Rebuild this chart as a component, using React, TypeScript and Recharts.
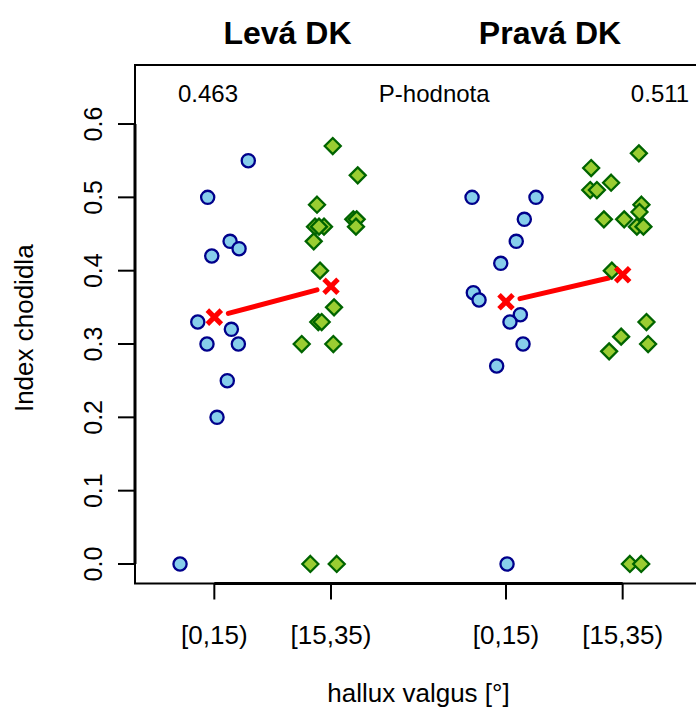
import {
  ScatterChart,
  Scatter,
  XAxis,
  YAxis,
  ReferenceArea,
  ReferenceLine,
  ReferenceDot,
} from 'recharts';

const FONT = "'Liberation Sans', Arial, Helvetica, sans-serif";

// group positions on the x axis and their labels
const groupPositions = [1, 2, 3.5, 4.5];
const groupLabels = ['[0,15)', '[15,35)', '[0,15)', '[15,35)'];
const sideTitles = ['Levá DK', 'Pravá DK'];
const titlePositions = [1.627, 3.877];
const titleLevel = 0.725;
const yTicks = [0, 0.1, 0.2, 0.3, 0.4, 0.5, 0.6];
const pLabels = ['0.463', 'P-hodnota', '0.511'];
const pPositions = [0.946, 2.885, 4.82];
const pLevel = 0.641;

// Levá DK, [0,15)
const leftLowX = [1.291, 0.943, 1.135, 1.212, 0.978, 0.858, 1.146, 0.937, 1.206, 1.111, 1.023, 0.706];
const leftLowY = [0.55, 0.5, 0.44, 0.43, 0.42, 0.33, 0.32, 0.3, 0.3, 0.25, 0.2, 0.0];

// Levá DK, [15,35)
const leftHighX = [2.015, 2.229, 1.88, 1.863, 1.94, 1.897, 2.191, 2.22, 2.214, 1.852, 1.906, 2.026, 1.891, 1.92, 1.749, 2.02, 1.823, 2.049];
const leftHighY = [0.57, 0.53, 0.49, 0.46, 0.46, 0.46, 0.47, 0.47, 0.46, 0.44, 0.4, 0.35, 0.33, 0.33, 0.3, 0.3, 0.0, 0.0];

// Pravá DK, [0,15)
const rightLowX = [3.209, 3.757, 3.657, 3.588, 3.455, 3.22, 3.269, 3.623, 3.534, 3.646, 3.42, 3.509];
const rightLowY = [0.5, 0.5, 0.47, 0.44, 0.41, 0.37, 0.36, 0.34, 0.33, 0.3, 0.27, 0.0];

// Pravá DK, [15,35)
const rightHighX = [4.639, 4.23, 4.401, 4.222, 4.279, 4.661, 4.644, 4.339, 4.513, 4.622, 4.678, 4.407, 4.704, 4.487, 4.384, 4.718, 4.562, 4.659];
const rightHighY = [0.56, 0.54, 0.52, 0.51, 0.51, 0.49, 0.48, 0.47, 0.47, 0.46, 0.46, 0.4, 0.33, 0.31, 0.29, 0.3, 0.0, 0.0];

const X_DOMAIN: [number, number] = [0.32, 5.18];
const Y_DOMAIN: [number, number] = [-0.0266, 0.6805];

const toPoints = (xs: number[], ys: number[]) => xs.map((x, i) => ({ x, y: ys[i] }));
const mean = (v: number[]) => v.reduce((a, b) => a + b, 0) / v.length;

const groupsY = [leftLowY, leftHighY, rightLowY, rightHighY];
const means = groupsY.map((ys, i) => ({ x: groupPositions[i], y: mean(ys) }));

// connecting line between the two means of one side, with gaps round the crosses
const GAP = 0.12;
const gapSegment = (a: { x: number; y: number }, b: { x: number; y: number }) => [
  { x: a.x + (b.x - a.x) * GAP, y: a.y + (b.y - a.y) * GAP },
  { x: b.x - (b.x - a.x) * GAP, y: b.y - (b.y - a.y) * GAP },
];

const Circle = (props: any) => (
  <circle cx={props.cx} cy={props.cy} r={6.6} fill="#87CEEB" stroke="#00008B" strokeWidth={2.3} />
);

const Diamond = (props: any) => {
  const { cx, cy } = props;
  const s = 8;
  return (
    <path
      d={`M${cx},${cy - s}L${cx + s},${cy}L${cx},${cy + s}L${cx - s},${cy}Z`}
      fill="#9ACD32"
      stroke="#006400"
      strokeWidth={2.3}
    />
  );
};

const Cross = (props: any) => {
  const { cx, cy } = props;
  const s = 7;
  return (
    <g stroke="#FF0000" strokeWidth={5}>
      <line x1={cx - s} y1={cy - s} x2={cx + s} y2={cy + s} />
      <line x1={cx - s} y1={cy + s} x2={cx + s} y2={cy - s} />
    </g>
  );
};

const BottomTick = (props: any) => {
  const { x, y, payload } = props;
  const i = groupPositions.indexOf(payload.value);
  return (
    <text x={x} y={y + 44} textAnchor="middle" fontSize={26} fontFamily={FONT} fill="#000">
      {groupLabels[i]}
    </text>
  );
};

const LeftTick = (props: any) => {
  const { x, y, payload } = props;
  const bx = x - 16;
  return (
    <text
      x={bx}
      y={y}
      transform={`rotate(-90, ${bx}, ${y})`}
      textAnchor="middle"
      fontSize={25}
      fontFamily={FONT}
      fill="#000"
    >
      {payload.value.toFixed(1)}
    </text>
  );
};

export default function App() {
  return (
    <div
      style={{
        position: 'fixed',
        left: 0,
        top: 0,
        width: 696,
        height: 710,
        overflow: 'hidden',
        background: '#ffffff',
      }}
    >
      <ScatterChart width={760} height={710} margin={{ top: 65, right: 58, bottom: 16.5, left: 0 }}>
        <XAxis
          dataKey="x"
          type="number"
          domain={X_DOMAIN}
          allowDataOverflow
          ticks={groupPositions}
          interval={0}
          height={110}
          tickSize={16}
          tickMargin={0}
          axisLine={false}
          tickLine={{ stroke: '#000', strokeWidth: 2 }}
          tick={BottomTick}
          label={{
            content: (p: any) => (
              <text
                x={p.viewBox.x + p.viewBox.width / 2}
                y={702}
                textAnchor="middle"
                fontSize={26}
                fontFamily={FONT}
                fill="#000"
              >
                hallux valgus [°]
              </text>
            ),
          }}
        />
        <YAxis
          dataKey="y"
          type="number"
          domain={Y_DOMAIN}
          allowDataOverflow
          ticks={yTicks}
          interval={0}
          width={135}
          tickSize={17}
          tickMargin={0}
          axisLine={false}
          tickLine={{ stroke: '#000', strokeWidth: 2 }}
          tick={LeftTick}
          label={{
            content: (p: any) => {
              const lx = 33;
              const ly = p.viewBox.y + p.viewBox.height / 2 + 4;
              return (
                <text
                  x={lx}
                  y={ly}
                  transform={`rotate(-90, ${lx}, ${ly})`}
                  textAnchor="middle"
                  fontSize={26}
                  fontFamily={FONT}
                  fill="#000"
                >
                  Index chodidla
                </text>
              );
            },
          }}
        />

        <ReferenceArea
          x1={X_DOMAIN[0]}
          x2={X_DOMAIN[1]}
          y1={Y_DOMAIN[0]}
          y2={Y_DOMAIN[1]}
          fill="none"
          stroke="#000"
          strokeWidth={2}
          ifOverflow="visible"
        />
        <ReferenceLine
          segment={[
            { x: groupPositions[0], y: Y_DOMAIN[0] },
            { x: groupPositions[3], y: Y_DOMAIN[0] },
          ]}
          stroke="#000"
          strokeWidth={3}
          ifOverflow="visible"
        />
        <ReferenceLine
          segment={[
            { x: X_DOMAIN[0], y: yTicks[0] },
            { x: X_DOMAIN[0], y: yTicks[yTicks.length - 1] },
          ]}
          stroke="#000"
          strokeWidth={3}
          ifOverflow="visible"
        />

        {sideTitles.map((t, i) => (
          <ReferenceDot
            key={t}
            x={titlePositions[i]}
            y={titleLevel}
            r={0}
            fill="none"
            stroke="none"
            ifOverflow="visible"
            label={{ value: t, position: 'center', fontSize: 32, fontWeight: 'bold', fontFamily: FONT, fill: '#000' }}
          />
        ))}

        {pLabels.map((t, i) => (
          <ReferenceDot
            key={t}
            x={pPositions[i]}
            y={pLevel}
            r={0}
            fill="none"
            stroke="none"
            label={{ value: t, position: 'center', fontSize: 24, fontFamily: FONT, fill: '#000' }}
          />
        ))}

        <Scatter data={toPoints(leftLowX, leftLowY)} shape={Circle} isAnimationActive={false} />
        <Scatter data={toPoints(leftHighX, leftHighY)} shape={Diamond} isAnimationActive={false} />
        <Scatter data={toPoints(rightLowX, rightLowY)} shape={Circle} isAnimationActive={false} />
        <Scatter data={toPoints(rightHighX, rightHighY)} shape={Diamond} isAnimationActive={false} />

        <ReferenceLine
          segment={gapSegment(means[0], means[1])}
          stroke="#FF0000"
          strokeWidth={5}
          strokeLinecap="round"
        />
        <ReferenceLine
          segment={gapSegment(means[2], means[3])}
          stroke="#FF0000"
          strokeWidth={5}
          strokeLinecap="round"
        />
        <Scatter data={means} shape={Cross} isAnimationActive={false} />
      </ScatterChart>
    </div>
  );
}
